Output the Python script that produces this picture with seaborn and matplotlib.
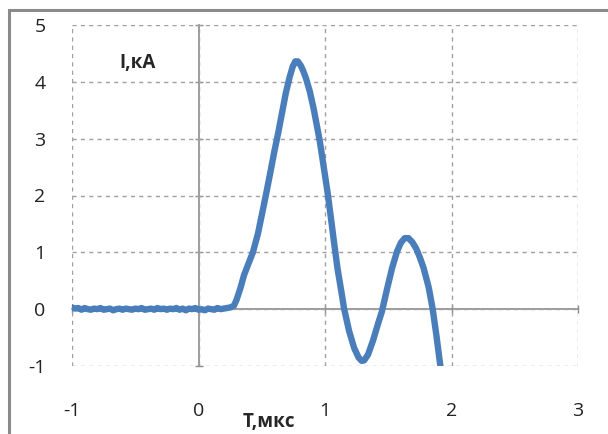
import numpy as np
import pandas as pd
import seaborn as sns
import matplotlib.pyplot as plt
from matplotlib.patches import Rectangle

# baseline noise before the pulse
t_base = [-1.0, -0.975, -0.95, -0.925, -0.9, -0.875, -0.85, -0.825, -0.8, -0.775,
          -0.75, -0.725, -0.7, -0.675, -0.65, -0.625, -0.6, -0.575, -0.55, -0.525,
          -0.5, -0.475, -0.45, -0.425, -0.4, -0.375, -0.35, -0.325, -0.3, -0.275,
          -0.25, -0.225, -0.2, -0.175, -0.15, -0.125, -0.1, -0.075, -0.05, -0.025,
          0.0, 0.025, 0.05, 0.075, 0.1, 0.125, 0.15, 0.175, 0.2, 0.225, 0.25]
i_base = [0.03, 0.01, 0.02, -0.01, 0.02, 0.0, -0.01, 0.01, 0.0, 0.02,
          -0.01, 0.0, 0.01, -0.02, 0.0, 0.01, -0.01, 0.01, 0.0, -0.01,
          0.01, 0.0, 0.02, -0.01, 0.0, 0.01, -0.01, 0.02, 0.0, 0.01,
          -0.01, 0.01, 0.0, 0.02, -0.01, 0.01, -0.02, 0.01, 0.0, 0.02,
          -0.01, 0.0, -0.02, 0.01, 0.0, -0.01, 0.02, 0.0, 0.01, 0.02, 0.03]

# current pulse
t_pulse = [0.28, 0.30, 0.33, 0.36, 0.40, 0.43, 0.47, 0.51, 0.54, 0.57,
           0.60, 0.63, 0.66, 0.69, 0.72, 0.745, 0.765, 0.785, 0.81, 0.83, 0.85,
           0.88, 0.91, 0.94, 0.96, 0.99, 1.02, 1.05, 1.07, 1.10, 1.13,
           1.15, 1.19, 1.23, 1.265, 1.29, 1.31, 1.34, 1.38, 1.42, 1.45, 1.49,
           1.53, 1.57, 1.60, 1.63, 1.66, 1.69, 1.72, 1.75, 1.78, 1.82, 1.85,
           1.88, 1.91, 1.93]
i_pulse = [0.06, 0.16, 0.36, 0.60, 0.83, 1.0, 1.33, 1.76, 2.09, 2.43,
           2.78, 3.10, 3.45, 3.80, 4.08, 4.27, 4.36, 4.36, 4.28, 4.18, 4.06,
           3.83, 3.53, 3.18, 2.94, 2.50, 2.06, 1.55, 1.20, 0.70, 0.30,
           0.02, -0.38, -0.68, -0.85, -0.91, -0.90, -0.80, -0.55, -0.25, -0.04, 0.35,
           0.72, 1.02, 1.17, 1.25, 1.25, 1.18, 1.07, 0.91, 0.72, 0.38, 0.02,
           -0.45, -0.97, -1.25]

x_ticks = [-1, 0, 1, 2, 3]
y_ticks = [-1, 0, 1, 2, 3, 4, 5]

df = pd.DataFrame({'t': t_base + t_pulse, 'i': i_base + i_pulse})

sns.set_theme(style='white')
plt.rcParams['font.family'] = ['Open Sans', 'DejaVu Sans']

fig = plt.figure(figsize=(6.08, 4.34), dpi=100)
ax = fig.add_axes([72 / 608, 1 - 366 / 434, 506 / 608, 341 / 434])

ax.grid(True, linestyle=(0, (3, 3)), color='#a0a0a0', linewidth=1)
ax.set_axisbelow(True)

sns.lineplot(data=df, x='t', y='i', sort=False, estimator=None,
             color='#4A7EBB', linewidth=4.6, ax=ax, zorder=3)

ax.set_xlim(-1, 3)
ax.set_ylim(-1, 5)
ax.set_xticks(x_ticks)
ax.set_yticks(y_ticks)
ax.set_xticklabels([str(v) for v in x_ticks])
ax.set_yticklabels([str(v) for v in y_ticks])
ax.tick_params(length=0, labelsize=14, colors='#222222')
ax.tick_params(axis='x', pad=26)
ax.tick_params(axis='y', pad=19)
for s in ax.spines.values():
    s.set_visible(False)
ax.set_xlabel('')
ax.set_ylabel('')

# zero axes with small tick marks
sx = ax.secondary_xaxis(1 / 6)
sx.set_xticks(x_ticks)
sx.tick_params(direction='inout', length=6, width=1, color='#8c8c8c', labelbottom=False)
sx.spines['bottom'].set_color('#8c8c8c')
sx.spines['bottom'].set_linewidth(1.2)
sy = ax.secondary_yaxis(0.25)
sy.set_yticks(y_ticks)
sy.tick_params(direction='inout', length=6, width=1, color='#8c8c8c', labelleft=False)
sy.spines['left'].set_color('#8c8c8c')
sy.spines['left'].set_linewidth(1.2)

ax.text(-0.48, 4.34, 'I,кА', fontsize=13.5, fontweight='bold', ha='center', va='center')
ax.text(0.56, -1.98, 'T,мкс', fontsize=13.5, fontweight='bold', ha='center', va='center',
        clip_on=False)

# chart frame (only left/top visible in the crop)
fig.add_artist(Rectangle((8.5 / 608, -0.2), 1.5, 1 - 9.5 / 434 + 0.2,
                         transform=fig.transFigure, fill=False,
                         edgecolor='#8a8a8a', linewidth=2.2))

fig.savefig('out.png', dpi=100)
